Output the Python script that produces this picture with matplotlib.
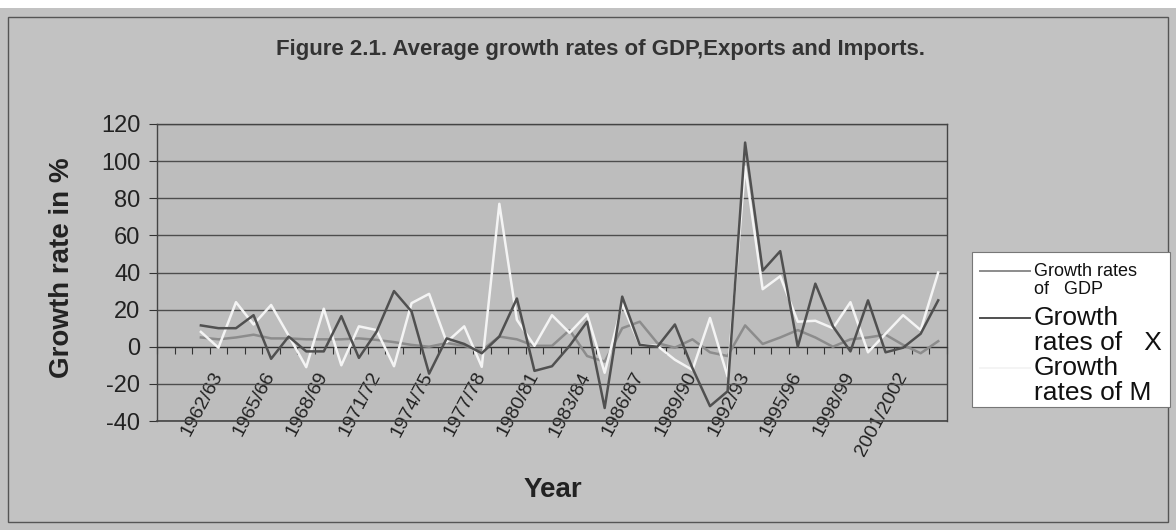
import matplotlib
matplotlib.use("Agg")
import matplotlib.pyplot as plt
from matplotlib.patches import Rectangle
from matplotlib.lines import Line2D
import numpy as np

plt.rcParams['font.family'] = ['Liberation Sans', 'DejaVu Sans']

# ---- data -------------------------------------------------------------
categories = ["", "", "1961/62", "1962/63", "1963/64", "1964/65", "1965/66",
              "1966/67", "1967/68", "1968/69", "1969/70", "1970/71", "1971/72",
              "1972/73", "1973/74", "1974/75", "1975/76", "1976/77", "1977/78",
              "1978/79", "1979/80", "1980/81", "1981/82", "1982/83", "1983/84",
              "1984/85", "1985/86", "1986/87", "1987/88", "1988/89", "1989/90",
              "1990/91", "1991/92", "1992/93", "1993/94", "1994/95", "1995/96",
              "1996/97", "1997/98", "1998/99", "1999/2000", "2000/2001",
              "2001/2002", "2002/2003", "2003/2004"]

gdp = [None, None,
       5, 4, 5, 6.5, 4.5, 4.5, 4, 4, 4, 4.5, 3.7, 2.5, 1, 0, 2,
       0.5, -2, 5.5, 4, 0.5, 0.5, 9, -5, -8, 10, 13.5, 2, -0.5, 4,
       -3, -5, 11.5, 1.5, 5, 9, 5, 0, 4, 5, 6.5, 1, -3.5, 3]

exports = [None, None,
           11.5, 10, 10, 17, -6.5, 5.5, -2.5, -2.5, 16.5, -6, 8, 30, 19, -14.5, 4.5,
           1.5, -3.5, 5.5, 26, -13, -10.5, 0.5, 13.5, -33, 27, 1, 0, 12, -11.5,
           -32, -24, 110, 41, 51.5, 0, 34, 11, -2.5, 25, -3, -0.5, 7, 25]

imports = [None, None,
           8, -0.5, 24, 12, 22.5, 6, -11, 20.5, -10, 11, 9, -10.5, 23.5, 28.5, 2.5,
           11, -10.8, 77, 14.5, 0.5, 17, 7.5, 17.5, -14, 23, 1, 0.5, -7, -12.5,
           15.5, -16, 97, 31, 38, 13.5, 14, 10, 24, -3, 7, 17, 9, 40]

series_labels = ["Growth rates\nof   GDP", "Growth\nrates of   X", "Growth\nrates of M"]
y_ticks = [-40, -20, 0, 20, 40, 60, 80, 100, 120]

# ---- style ------------------------------------------------------------
W, H = 1176, 530
outer_bg = "#c2c2c2"
plot_bg = "#bdbdbd"
grid_c = "#4d4d4d"
col_gdp = "#8c8c8c"
col_x = "#505050"
col_m = "#f4f4f4"

fig = plt.figure(figsize=(W / 100, H / 100), dpi=100)
fig.patch.set_facecolor("white")

# outer chart area
fig.patches.append(Rectangle((0, 0), 1, 1 - 8 / H, transform=fig.transFigure,
                             facecolor=outer_bg, edgecolor="none", zorder=-10))
fig.patches.append(Rectangle((8 / W, 1 - 522 / H), (1168 - 8) / W, (522 - 17) / H,
                             transform=fig.transFigure, facecolor="none",
                             edgecolor="#555555", lw=1.0, zorder=-9))

L, R, T, B = 157, 947, 124, 421
ax = fig.add_axes([L / W, 1 - B / H, (R - L) / W, (B - T) / H])
ax.set_facecolor(plot_bg)

n = len(categories)
xs = np.arange(1, n + 1)

def arr(v):
    return np.array([np.nan if a is None else a for a in v], dtype=float)

ax.plot(xs, arr(gdp), color=col_gdp, lw=1.8, zorder=3)
ax.plot(xs, arr(imports), color=col_m, lw=1.8, zorder=4)
ax.plot(xs, arr(exports), color=col_x, lw=1.8, zorder=5)

ax.set_xlim(0.5, n + 0.5)
ax.set_ylim(-40, 120)
ax.set_yticks(y_ticks)
ax.set_yticklabels([str(v) for v in y_ticks], fontsize=17, color="#222222")
ax.yaxis.grid(True, color=grid_c, lw=1.0)
ax.set_axisbelow(True)
ax.tick_params(axis="y", direction="out", length=6, width=0.8, pad=6, colors="#333333")
ax.tick_params(axis="y", labelcolor="#222222")

# category axis crossing at zero
ax.spines["bottom"].set_position(("data", 0))
ax.spines["bottom"].set_color("#333333")
for s in ["left", "right", "top"]:
    ax.spines[s].set_color("#444444")
    ax.spines[s].set_linewidth(1.0)

ax.set_xticks(np.arange(0.5, n + 1, 1.0))
ax.set_xticklabels([])
ax.tick_params(axis="x", which="major", direction="out", length=5, width=0.8, colors="#333333")
lab_idx = list(range(0, n, 3))
ax.set_xticks(xs[lab_idx], minor=True)
ax.set_xticklabels([categories[i] for i in lab_idx], minor=True, rotation=62,
                   ha="right", va="center", rotation_mode="anchor", fontsize=14,
                   color="#222222")
ax.tick_params(axis="x", which="minor", length=0, pad=19)

# bottom border line at -40
ax.axhline(-40, color="#444444", lw=1.2, clip_on=False, zorder=2)

ax.set_ylabel("Growth rate in %", fontsize=20, fontweight="bold", color="#222222")
ax.yaxis.set_label_coords((62 - L) / (R - L), 1 - (268 - T) / (B - T))
ax.yaxis.label.set_va("center")
ax.set_xlabel("Year", fontsize=20, fontweight="bold", color="#222222")
ax.xaxis.set_label_coords((553 - L) / (R - L), (B - 490) / (B - T))
ax.xaxis.label.set_va("center")

fig.text(600 / W, 1 - 50 / H, "Figure 2.1. Average growth rates of GDP,Exports and Imports.",
         ha="center", va="center", fontsize=16, fontweight="bold", color="#333333")

# legend (manual box)
lx0, lx1, ly0, ly1 = 972, 1170, 252, 407
fig.patches.append(Rectangle((lx0 / W, 1 - ly1 / H), (lx1 - lx0) / W, (ly1 - ly0) / H,
                             transform=fig.transFigure, facecolor="white",
                             edgecolor="#777777", lw=0.8, zorder=5))
leg_items = [(col_gdp, series_labels[0], 271, 289, 13),
             (col_x, series_labels[1], 318, 343, 19),
             (col_m, series_labels[2], 368, 393, 19)]
for c, lab, y1, y2, fs in leg_items:
    fig.add_artist(Line2D([980 / W, 1030 / W], [1 - y1 / H, 1 - y1 / H],
                          transform=fig.transFigure, color=c, lw=1.4, zorder=6))
    l1, l2 = lab.split("\n")
    fig.text(1034 / W, 1 - y1 / H, l1, ha="left", va="center", fontsize=fs,
             color="#111111", zorder=7)
    fig.text(1034 / W, 1 - y2 / H, l2, ha="left", va="center", fontsize=fs,
             color="#111111", zorder=7)

fig.savefig("out.png", dpi=100, facecolor=fig.get_facecolor())
